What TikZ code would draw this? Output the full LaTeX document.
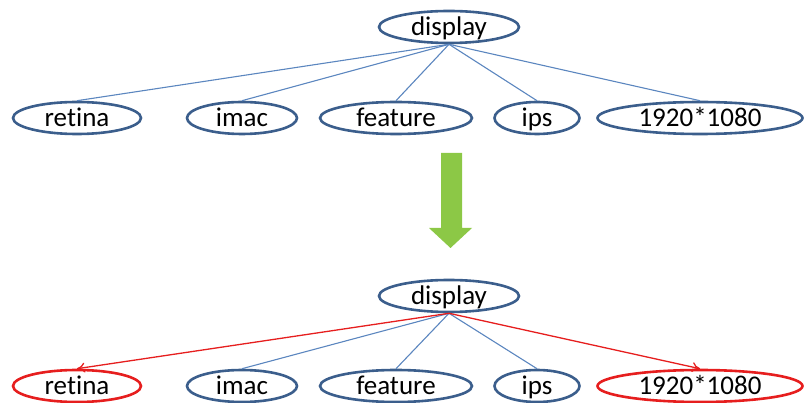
\documentclass[tikz,border=0pt]{standalone}
\usepackage{fontspec}
\setmainfont[Ligatures=NoCommon]{Carlito}
\usetikzlibrary{shapes.geometric,arrows.meta}
\definecolor{nodeblue}{RGB}{59,94,140}
\definecolor{edgeblue}{RGB}{91,134,191}
\definecolor{hotred}{RGB}{230,30,30}
\definecolor{downgreen}{RGB}{140,200,70}
\tikzset{
  term/.style={ellipse, draw=nodeblue, line width=2.6pt, inner sep=0pt,
    minimum height=32pt, text height=18pt, text depth=0pt,
    font=\fontsize{27}{32}\selectfont},
  hot/.style={draw=hotred},
  edge/.style={draw=edgeblue, line width=1.1pt},
  hotedge/.style={draw=hotred, line width=1.3pt, -{To[length=8pt,width=10pt]}},
}
\begin{document}
\begin{tikzpicture}[x=1pt,y=-1pt]
\useasboundingbox (0,0) rectangle (809,403);

% upper tree
\node[term, minimum width=140pt] (d1) at (449,27) {display};
\node[term, minimum width=128pt] (r1) at (77,118) {retina};
\node[term, minimum width=110pt] (i1) at (242,118) {imac};
\node[term, minimum width=152pt] (f1) at (396,118) {feature};
\node[term, minimum width=85pt]  (p1) at (537,118) {ips};
\node[term, minimum width=205pt] (s1) at (700,118) {1920*1080};
\foreach \c in {r1,i1,f1,p1,s1}
  \draw[edge] (d1.south) -- (\c.north);

% transition arrow
\path[fill=downgreen] (441,153) -- (462,153) -- (462,228) -- (472,228)
  -- (450.5,248) -- (429,228) -- (441,228) -- cycle;

% lower tree
\node[term, minimum width=140pt] (d2) at (449,296) {display};
\node[term, hot, minimum width=128pt] (r2) at (77,386) {retina};
\node[term, minimum width=110pt] (i2) at (242,386) {imac};
\node[term, minimum width=152pt] (f2) at (396,386) {feature};
\node[term, minimum width=85pt]  (p2) at (537,386) {ips};
\node[term, hot, minimum width=205pt] (s2) at (700,386) {1920*1080};
\foreach \c in {i2,f2,p2}
  \draw[edge] (d2.south) -- (\c.north);
\draw[hotedge] (d2.south) -- (r2.north);
\draw[hotedge] (d2.south) -- (s2.north);
\end{tikzpicture}
\end{document}
